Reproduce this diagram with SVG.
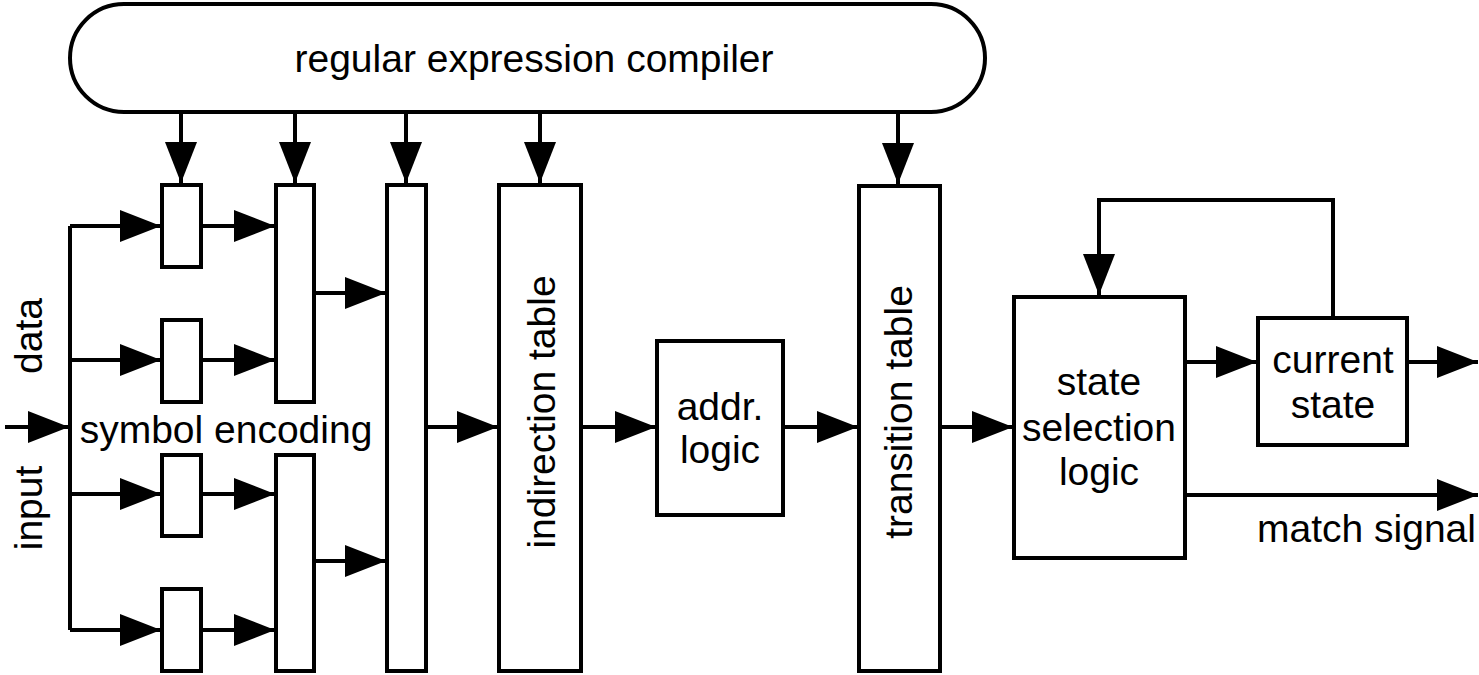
<svg xmlns="http://www.w3.org/2000/svg" width="1479" height="675" viewBox="0 0 1479 675">
<defs>
<marker id="ah" markerUnits="userSpaceOnUse" markerWidth="41" markerHeight="32" refX="41" refY="16" orient="auto">
<path d="M0,0 L41,16 L0,32 z" fill="#000"/>
</marker>
<style>
.b{fill:#fff;stroke:#000;stroke-width:4}
.c{fill:none;stroke:#000;stroke-width:4}
.a{marker-end:url(#ah)}
text{font-family:"Liberation Sans",Arial,sans-serif;font-size:39px;fill:#000}
.m{text-anchor:middle}
</style>
</defs>
<rect width="1479" height="675" fill="#fff"/>
<g id="connectors">
<path class="c a" d="M181,112 V183"/>
<path class="c a" d="M295,112 V183"/>
<path class="c a" d="M406,112 V183"/>
<path class="c a" d="M540,112 V183"/>
<path class="c a" d="M898,112 V184"/>
<path class="c a" d="M5,427 H69"/>
<path class="c" d="M70,226 V630"/>
<path class="c a" d="M70,226 H161"/>
<path class="c a" d="M70,360 H161"/>
<path class="c a" d="M70,494 H161"/>
<path class="c a" d="M70,630 H161"/>
<path class="c a" d="M203,226 H275"/>
<path class="c a" d="M203,360 H275"/>
<path class="c a" d="M203,494 H275"/>
<path class="c a" d="M203,630 H275"/>
<path class="c a" d="M316,293 H386"/>
<path class="c a" d="M316,561 H386"/>
<path class="c a" d="M428,427 H498"/>
<path class="c a" d="M583,427 H656"/>
<path class="c a" d="M785,427 H858"/>
<path class="c a" d="M942,427 H1013"/>
<path class="c a" d="M1187,362 H1257"/>
<path class="c a" d="M1409,362 H1478"/>
<path class="c a" d="M1187,495 H1478"/>
<path class="c a" d="M1333,316 V200 H1099 V295"/>
</g>
<g id="compiler">
<rect class="b" x="70" y="4" width="915" height="108" rx="54" ry="54"/>
<text class="m" x="534" y="72">regular expression compiler</text>
</g>
<g id="enc1a"><rect class="b" x="162" y="185" width="39" height="82"/></g>
<g id="enc1b"><rect class="b" x="162" y="320" width="39" height="82"/></g>
<g id="enc1c"><rect class="b" x="162" y="455" width="39" height="81"/></g>
<g id="enc1d"><rect class="b" x="162" y="589" width="39" height="82"/></g>
<g id="enc2a"><rect class="b" x="276" y="185" width="38" height="217"/></g>
<g id="enc2b"><rect class="b" x="276" y="455" width="38" height="216"/></g>
<g id="enc3"><rect class="b" x="387" y="185" width="39" height="486"/></g>
<g id="labels">
<text class="m" x="226" y="443">symbol encoding</text>
<text class="m" transform="translate(42,336) rotate(-90)">data</text>
<text class="m" transform="translate(42,508) rotate(-90)">input</text>
<text x="1257" y="542">match signal</text>
</g>
<g id="indirection">
<rect class="b" x="499" y="185" width="82" height="486"/>
<text class="m" transform="translate(555,412) rotate(-90)">indirection table</text>
</g>
<g id="addr">
<rect class="b" x="657" y="341" width="126" height="174"/>
<text class="m" x="720" y="420">addr.</text>
<text class="m" x="720" y="463">logic</text>
</g>
<g id="transition">
<rect class="b" x="859" y="186" width="81" height="485"/>
<text class="m" transform="translate(912,412) rotate(-90)">transition table</text>
</g>
<g id="stateSel">
<rect class="b" x="1014" y="297" width="171" height="261"/>
<text class="m" x="1099" y="395">state</text>
<text class="m" x="1099" y="441">selection</text>
<text class="m" x="1099" y="485">logic</text>
</g>
<g id="current">
<rect class="b" x="1258" y="318" width="149" height="127"/>
<text class="m" x="1333" y="373">current</text>
<text class="m" x="1333" y="418">state</text>
</g>
</svg>
